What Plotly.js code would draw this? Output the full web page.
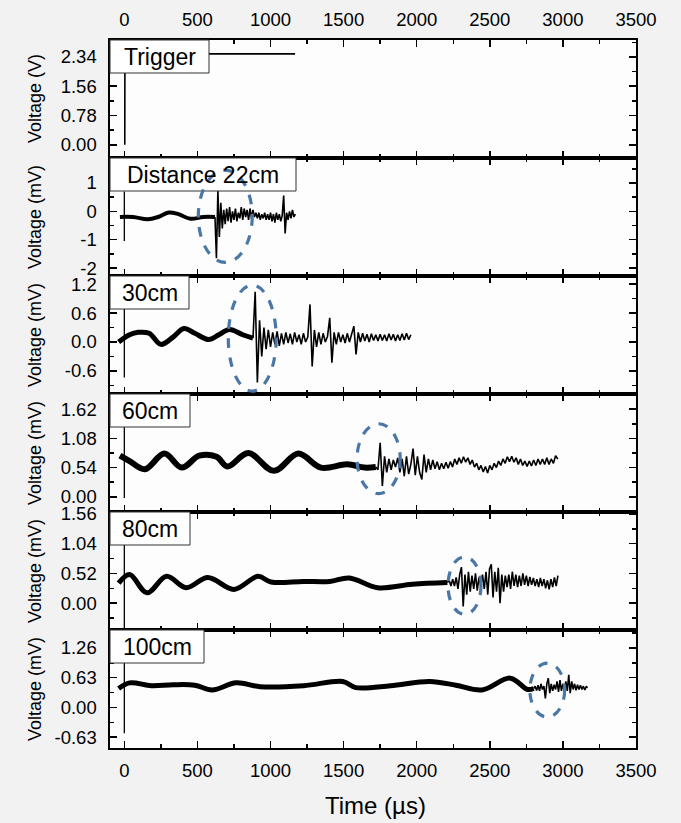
<!DOCTYPE html>
<html><head><meta charset="utf-8">
<script src="https://cdn.plot.ly/plotly-3.0.1.min.js"></script>
<style>html,body{margin:0;padding:0;background:#f2f2f2}</style>
</head><body><div id="chart" style="width:681px;height:823px"></div>
<script>
// ---------- data ----------
const panelLabels = ['Trigger','Distance 22cm','30cm','60cm','80cm','100cm'];
const yTitles = ['Voltage (V)','Voltage (mV)','Voltage (mV)','Voltage (mV)','Voltage (mV)','Voltage (mV)'];
const yTickVals = [[0,0.78,1.56,2.34],[-2,-1,0,1],[-0.6,0,0.6,1.2],[0,0.54,1.08,1.62],[0,0.52,1.04,1.56],[-0.63,0,0.63,1.26]];
const yTickText = [['0.00','0.78','1.56','2.34'],['-2','-1','0','1'],['-0.6','0.0','0.6','1.2'],['0.00','0.54','1.08','1.62'],['0.00','0.52','1.04','1.56'],['-0.63','0.00','0.63','1.26']];
const xTickVals = [0,500,1000,1500,2000,2500,3000,3500];
const xTickText = ['0','500','1000','1500','2000','2500','3000','3500'];

// Trigger channel (V)
const triggerTime = [3,4,1168];
const triggerVolt = [0,2.42,2.42];

// vertical trigger spike at t=0 in each sensor channel (mV): [top, bottom]
const zeroSpikeTop    = [0.7, 0.9, 1.4, 1.3, 0.95];
const zeroSpikeBottom = [-1.05, -0.74, -0.02, -0.6, -0.55];

// 22 cm
const d22BaseT = [-30,60,160,230,304,370,452,540,620];
const d22BaseV = [-0.2,-0.2,-0.28,-0.2,-0.04,-0.1,-0.26,-0.2,-0.2];
const d22BurstStart = 620, d22BurstStep = 10;
const d22Burst = [-0.2,-1.65,0.73,-0.9,0.3,-0.6,0.05,-0.45,0.1,-0.35,0.15,-0.4,0.0,-0.3,0.1,-0.35,-0.05,-0.25,0.15,-0.3,0.1,-0.2,0.05,-0.3,0.1,-0.25,0.05,-0.2,-0.05,-0.25,-0.05,-0.3,-0.1,-0.25,-0.05,-0.3,-0.1,-0.3,-0.05,-0.35,-0.1,-0.4,-0.05,-0.3,-0.1,-0.35,-0.15,0.56,-0.78,-0.05,-0.3,0.0,-0.25,0.05,-0.2,-0.1];

// 30 cm
const d30BaseT = [-39,36,95,170,250,333,408,482,577,646,720,810,880];
const d30BaseV = [0.0,0.15,0.2,0.18,-0.05,0.1,0.28,0.18,0.05,0.15,0.26,0.15,0.08];
const d30BurstStart = 880, d30BurstStep = 15;
const d30Burst = [0.08,1.04,-0.84,0.45,-0.3,0.3,-0.15,0.25,-0.1,0.2,-0.05,0.22,-0.08,0.18,-0.05,0.2,-0.02,0.17,-0.05,0.2,0.0,0.15,-0.05,0.18,0.0,0.1,0.78,-0.51,0.25,-0.1,0.2,-0.05,0.18,0.0,0.12,0.5,-0.43,0.2,-0.05,0.2,0.0,0.15,-0.02,0.18,0.0,0.15,0.33,-0.26,0.2,0.0,0.18,0.02,0.16,0.0,0.17,0.03,0.15,0.02,0.16,0.03,0.15,0.02,0.17,0.04,0.16,0.02,0.15,0.03,0.17,0.04,0.18,0.05,0.15];

// 60 cm
const d60BaseT = [-30,36,140,274,393,512,631,705,848,1024,1190,1345,1524,1643,1720];
const d60BaseV = [0.76,0.66,0.51,0.80,0.54,0.76,0.74,0.56,0.81,0.48,0.80,0.54,0.6,0.54,0.55];
const d60BurstStart = 1720, d60BurstStep = 15;
const d60Burst = [0.55,0.5,1.0,0.2,0.75,0.45,0.7,0.5,0.68,0.55,0.72,0.45,0.7,0.38,0.75,0.42,0.6,0.89,0.4,0.75,0.45,0.32,0.78,0.45,0.7,0.5,0.68,0.52,0.65,0.5,0.62,0.52,0.64,0.53,0.65,0.55,0.7,0.6,0.72,0.62,0.74,0.64,0.72,0.6,0.68,0.55,0.62,0.5,0.58,0.46,0.56,0.44,0.58,0.5,0.62,0.54,0.66,0.58,0.7,0.62,0.74,0.65,0.75,0.64,0.72,0.6,0.7,0.58,0.66,0.56,0.66,0.57,0.68,0.58,0.7,0.6,0.7,0.6,0.72,0.6,0.7,0.62,0.76,0.7];

// 80 cm
const d80BaseT = [-39,36,155,289,423,571,750,914,1003,1226,1405,1539,1732,1970,2210];
const d80BaseV = [0.35,0.50,0.18,0.47,0.27,0.45,0.24,0.47,0.37,0.38,0.38,0.44,0.27,0.33,0.36];
const d80BurstStart = 2210, d80BurstStep = 12;
const d80Burst = [0.36,0.4,0.3,0.42,0.3,0.45,0.25,0.5,0.63,-0.06,0.5,0.15,0.55,0.2,0.48,0.25,0.52,0.22,0.45,0.3,0.5,0.25,0.55,0.15,0.6,0.68,0.1,0.55,0.2,0.62,0.0,0.5,0.2,0.48,0.28,0.5,0.25,0.55,0.3,0.5,0.28,0.48,0.3,0.52,0.32,0.48,0.3,0.46,0.32,0.44,0.3,0.42,0.28,0.44,0.3,0.42,0.26,0.4,0.24,0.42,0.28,0.45,0.3,0.48];

// 100 cm
const d100BaseT = [-39,36,185,333,482,601,765,929,1226,1494,1583,1821,2089,2268,2446,2640,2759,2800];
const d100BaseV = [0.40,0.52,0.46,0.48,0.47,0.37,0.52,0.44,0.46,0.55,0.42,0.46,0.55,0.47,0.37,0.62,0.38,0.40];
const d100BurstStart = 2800, d100BurstStep = 10;
const d100Burst = [0.4,0.45,0.36,0.47,0.35,0.5,0.38,0.45,0.19,0.5,0.62,0.3,0.5,0.35,0.48,0.38,0.55,0.33,0.58,0.35,0.5,0.4,0.55,0.35,0.69,0.3,0.55,0.38,0.5,0.36,0.48,0.38,0.47,0.38,0.45,0.37,0.44,0.42];

// highlighted arrival regions (dashed ellipses), data units per sensor panel
const ellipseX0 = [506,711,1592,2214,2774];
const ellipseX1 = [875,1039,1887,2440,3012];
const ellipseY0 = [-1.80,-1.02,0.06,-0.196,-0.205];
const ellipseY1 = [1.45,1.18,1.35,0.81,0.94];

// ---------- styling / layout ----------
const yRanges = [[-0.35,2.79],[-2.28,1.88],[-1.08,1.37],[-0.28,1.90],[-0.47,1.595],[-0.86,1.64]];
const yMinor = [0.39,0.5,0.3,0.27,0.26,0.315];
const baseWidths = [4,5,6,5,5];
const boxWidthsPx = [99,186,79,80,80,94];
const BOX_H = 33, PLOT_W = 526, PLOT_H = 708;
const FONT = 'Liberation Sans, Arial, sans-serif';

const sensors = [
  [d22BaseT,d22BaseV,d22BurstStart,d22BurstStep,d22Burst],
  [d30BaseT,d30BaseV,d30BurstStart,d30BurstStep,d30Burst],
  [d60BaseT,d60BaseV,d60BurstStart,d60BurstStep,d60Burst],
  [d80BaseT,d80BaseV,d80BurstStart,d80BurstStep,d80Burst],
  [d100BaseT,d100BaseV,d100BurstStart,d100BurstStep,d100Burst]
];

const traces = [];
traces.push({x:triggerTime, y:triggerVolt, xaxis:'x', yaxis:'y', mode:'lines',
  line:{color:'#000', width:1.6}, hoverinfo:'skip', showlegend:false});

sensors.forEach((s,i)=>{
  const ax = i+2;
  const xa = 'x'+ax, ya = 'y'+ax;
  traces.push({x:[0,0], y:[zeroSpikeTop[i], zeroSpikeBottom[i]], xaxis:xa, yaxis:ya, mode:'lines',
    line:{color:'#000', width:1.3}, showlegend:false, hoverinfo:'skip'});
  traces.push({x:s[0], y:s[1], xaxis:xa, yaxis:ya, mode:'lines',
    line:{color:'#000', width:baseWidths[i], shape:'spline', smoothing:1}, showlegend:false, hoverinfo:'skip'});
  const bx = s[4].map((v,k)=>s[2]+k*s[3]);
  traces.push({x:bx, y:s[4], xaxis:xa, yaxis:ya, mode:'lines',
    line:{color:'#000', width:1.6}, showlegend:false, hoverinfo:'skip'});
});

const layout = {
  width:681, height:823,
  margin:{l:110, r:45, t:40, b:75},
  paper_bgcolor:'#f2f2f2', plot_bgcolor:'#fdfdfd',
  font:{family:FONT, color:'#000', size:18.5},
  showlegend:false,
  annotations:[], shapes:[]
};

for (let k=0;k<6;k++){
  const n = k+1;
  const xname = n===1?'xaxis':'xaxis'+n;
  const yname = n===1?'yaxis':'yaxis'+n;
  const top = 1-k/6, bot = 1-(k+1)/6;
  layout[xname] = {
    domain:[0,1], anchor: n===1?'y':'y'+n, range:[-98,3500],
    side: n===1?'top':'bottom',
    showticklabels: (n===1||n===6),
    tickmode:'array', tickvals:xTickVals, ticktext:xTickText,
    ticks:'inside', ticklen:7, tickwidth:1.5, tickcolor:'#000',
    minor:{tickmode:'linear', tick0:0, dtick:250, ticks:'inside', ticklen:4, tickwidth:1.5, tickcolor:'#000'},
    showline:true, linewidth:1.6, linecolor:'#000', mirror:'allticks',
    showgrid:false, zeroline:false, fixedrange:true,
    ticklabelstandoff:5,
    tickfont:{family:FONT, size:18.5, color:'#000'}
  };
  layout[yname] = {
    domain:[bot,top], anchor: n===1?'x':'x'+n, range:yRanges[k],
    tickmode:'array', tickvals:yTickVals[k], ticktext:yTickText[k],
    ticks:'inside', ticklen:7, tickwidth:1.5, tickcolor:'#000',
    minor:{tickmode:'linear', tick0:0, dtick:yMinor[k], ticks:'inside', ticklen:4, tickwidth:1.5, tickcolor:'#000'},
    showline:true, linewidth:1.6, linecolor:'#000', mirror:'allticks',
    showgrid:false, zeroline:false, fixedrange:true,
    ticklabelstandoff:8,
    tickfont:{family:FONT, size:18.5, color:'#000'}
  };
  // label box
  layout.shapes.push({type:'rect', xref:'paper', yref:'paper',
    x0:0, x1:boxWidthsPx[k]/PLOT_W, y0:top-BOX_H/PLOT_H, y1:top,
    fillcolor:'#ffffff', line:{color:'#333', width:1}, layer:'above'});
  layout.annotations.push({
    text:panelLabels[k], xref:'paper', yref:'paper', x:boxWidthsPx[k]/2/PLOT_W, y:top-BOX_H/2/PLOT_H,
    xanchor:'center', yanchor:'middle', showarrow:false,
    font:{family:FONT, size:23, color:'#000'}
  });
  layout.annotations.push({
    text:yTitles[k], xref:'paper', yref:'paper', x:(35-110)/PLOT_W, y:(top+bot)/2, xanchor:'center', yanchor:'middle',
    textangle:-90, showarrow:false, font:{family:FONT, size:18, color:'#000'}
  });
}
layout.annotations.push({
  text:'Time (µs)', xref:'paper', yref:'paper', x:(375-110)/PLOT_W, y:(748-805)/PLOT_H, xanchor:'center', yanchor:'middle',
  showarrow:false, font:{family:FONT, size:24, color:'#000'}
});

for (let i=0;i<5;i++){
  const n=i+2;
  layout.shapes.push({type:'circle', xref:'x'+n, yref:'y'+n,
    x0:ellipseX0[i], x1:ellipseX1[i], y0:ellipseY0[i], y1:ellipseY1[i],
    line:{color:'#4a77a6', width:3.2, dash:'dash'}, layer:'above'});
}

Plotly.newPlot('chart', traces, layout, {displayModeBar:false, staticPlot:true});
</script></body></html>
